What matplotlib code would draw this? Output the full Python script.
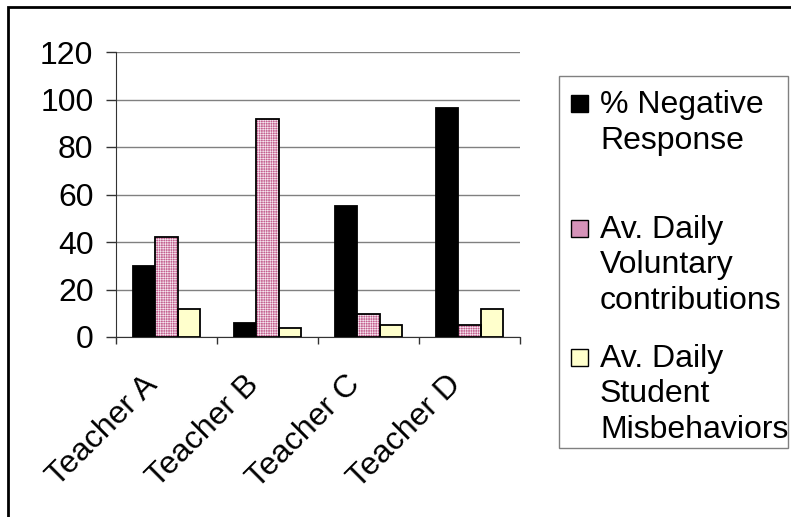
import numpy as np
import matplotlib
matplotlib.use("Agg")
import matplotlib.pyplot as plt
from matplotlib.patches import Rectangle
from matplotlib.ticker import FixedLocator
from matplotlib.transforms import ScaledTranslation

plt.rcParams['font.family'] = ['Liberation Sans', 'DejaVu Sans']
plt.rcParams['hatch.linewidth'] = 0.45

teachers = ['Teacher A', 'Teacher B', 'Teacher C', 'Teacher D']
negative_response = [30, 6, 55, 96.5]
voluntary_contrib = [42, 92, 9.5, 5]
misbehaviors = [12, 4, 5, 12]
series_labels = ['% Negative\nResponse',
                 'Av. Daily\nVoluntary\ncontributions',
                 'Av. Daily\nStudent\nMisbehaviors']
yticks = [0, 20, 40, 60, 80, 100, 120]

W, H = 791, 517


def fx(px):
    return px / W


def fy(py):
    return 1 - py / H


fig = plt.figure(figsize=(W / 100, H / 100), dpi=100)
ax = fig.add_axes([fx(116), fy(337), fx(520) - fx(116), fy(52) - fy(337)])

x = np.arange(len(teachers))
bw = 2 / 9
ax.bar(x - bw, negative_response, bw, color='black', edgecolor='black', linewidth=1.3, zorder=3)
# pink bars with a fine white checker pattern, then the outline on top
ax.bar(x, voluntary_contrib, bw, color='#c4608f', edgecolor='#f4e4ee', hatch='+++++++', linewidth=0, zorder=3)
ax.bar(x, voluntary_contrib, bw, fill=False, edgecolor='black', linewidth=1.3, zorder=4)
ax.bar(x + bw, misbehaviors, bw, color='#ffffcc', edgecolor='black', linewidth=1.3, zorder=3)

ax.set_xlim(-0.5, len(teachers) - 0.5)
ax.set_ylim(0, 120)
ax.set_yticks(yticks)
ax.yaxis.grid(True, color='#808080', linewidth=1)
ax.set_axisbelow(True)
for s in ['top', 'right']:
    ax.spines[s].set_visible(False)
ax.spines['left'].set_color('#333333')
ax.spines['bottom'].set_color('#333333')
ax.tick_params(axis='y', length=7.2, width=1, color='#333333', labelsize=23, pad=9)

ax.set_xticks(x)
ax.set_xticklabels(teachers, fontsize=23)
ax.tick_params(axis='x', which='major', length=0, pad=14)
ax.xaxis.set_minor_locator(FixedLocator(np.arange(-0.5, len(teachers), 1)))
ax.tick_params(axis='x', which='minor', length=5, width=1, color='#333333')
shift = ScaledTranslation(-13 / 100, -24 / 100, fig.dpi_scale_trans)
for lab in ax.get_xticklabels():
    lab.set_rotation(45)
    lab.set_ha('right')
    lab.set_va('center')
    lab.set_rotation_mode('anchor')
    lab.set_transform(lab.get_transform() + shift)

# outer chart border
fig.patches.append(Rectangle((fx(8), fy(530)), fx(800) - fx(8), fy(7) - fy(530),
                             transform=fig.transFigure, fill=False,
                             edgecolor='black', linewidth=2))

# legend box
fig.patches.append(Rectangle((fx(559), fy(448)), fx(788) - fx(559), fy(76) - fy(448),
                             transform=fig.transFigure, facecolor='white',
                             edgecolor='#808080', linewidth=1))
handle_styles = [dict(facecolor='black'),
                 dict(facecolor='#d592b8'),
                 dict(facecolor='#ffffcc')]
first_baselines = [113, 238, 367]
line_step = 35.5
for label, style, base in zip(series_labels, handle_styles, first_baselines):
    fig.patches.append(Rectangle((fx(571), fy(base - 1)), fx(17), fy(0) - fy(17),
                                 transform=fig.transFigure, edgecolor='black',
                                 linewidth=1, **style))
    for i, line in enumerate(label.split('\n')):
        fig.text(fx(600), fy(base + i * line_step), line, fontsize=23,
                 va='baseline', ha='left')

fig.savefig('out.png', dpi=100)
